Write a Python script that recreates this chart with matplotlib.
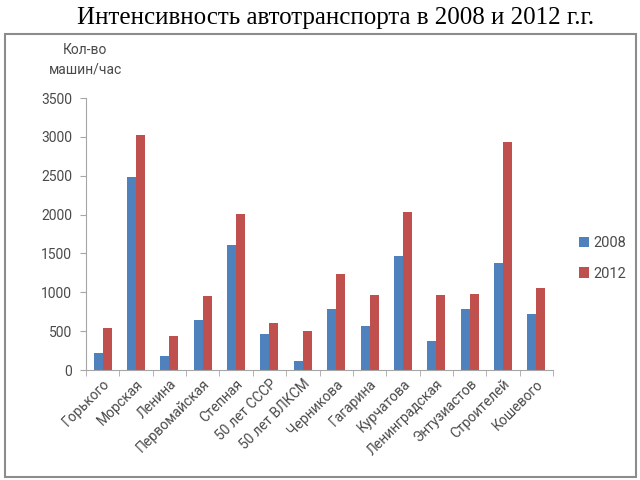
import matplotlib
matplotlib.use("Agg")
import matplotlib.pyplot as plt
import numpy as np
from matplotlib.patches import Rectangle

categories = ["Горького", "Морская", "Ленина", "Первомайская", "Степная",
              "50 лет СССР", "50 лет ВЛКСМ", "Черникова", "Гагарина",
              "Курчатова", "Ленинградская", "Энтузиастов", "Строителей", "Кошевого"]
values_2008 = [220, 2480, 180, 640, 1610, 460, 120, 780, 570, 1470, 370, 790, 1380, 720]
values_2012 = [540, 3020, 440, 950, 2010, 610, 500, 1240, 960, 2030, 970, 980, 2930, 1050]
series_labels = ["2008", "2012"]
yticks = [0, 500, 1000, 1500, 2000, 2500, 3000, 3500]

plt.rcParams['font.family'] = ['Roboto', 'DejaVu Sans']

fig = plt.figure(figsize=(6.4, 4.8), dpi=100)
fig.patch.set_facecolor('white')

# outer frame
fig.patches.append(Rectangle((5/640, 1-477/480), 631/640, 443/480, transform=fig.transFigure,
                             fill=False, edgecolor='#8c8c8c', linewidth=1.5, zorder=0))

fig.text(336/640, 1-18/480, "Интенсивность автотранспорта в 2008 и 2012 г.г.",
         ha='center', va='center', fontsize=18, family=['Liberation Serif'],
         color='black')

ax = fig.add_axes([86/640, 1-370/480, (553-86)/640, (370-98)/480])
x = np.arange(len(categories))
w = 0.27
ax.bar(x - w/2, values_2008, w, color='#4F81BD', label=series_labels[0])
ax.bar(x + w/2, values_2012, w, color='#C0504D', label=series_labels[1])

txt = '#4a4a4a'
ax.set_xlim(-0.5, len(categories) - 0.5)
ax.set_ylim(0, 3500)
ax.set_yticks(yticks)
ax.set_yticklabels([str(v) for v in yticks], color=txt, fontsize=10)
ax.set_xticks(x)
ax.set_xticklabels(categories, rotation=45, ha='right', rotation_mode='anchor',
                   color=txt, fontsize=10)
ax.tick_params(axis='x', length=0, pad=5)
ax.set_xticks(np.arange(-0.5, len(categories)), minor=True)
ax.tick_params(axis='x', which='minor', length=4, color='#a6a6a6', direction='out')
ax.tick_params(axis='y', length=4, color='#a6a6a6', direction='out', pad=6)
for s in ['top', 'right']:
    ax.spines[s].set_visible(False)
for s in ['left', 'bottom']:
    ax.spines[s].set_color('#a6a6a6')

fig.text(85/640, 1-60/480, "Кол-во\nмашин/час", ha='center', va='center',
         fontsize=10, color=txt, linespacing=1.5)

ax.legend(loc='center left', bbox_to_anchor=(1.028, 0.41), frameon=False,
          fontsize=10.5, handlelength=0.7, handleheight=0.7, handletextpad=0.3,
          labelspacing=1.1, labelcolor=txt)

fig.savefig("out.png", dpi=100)
